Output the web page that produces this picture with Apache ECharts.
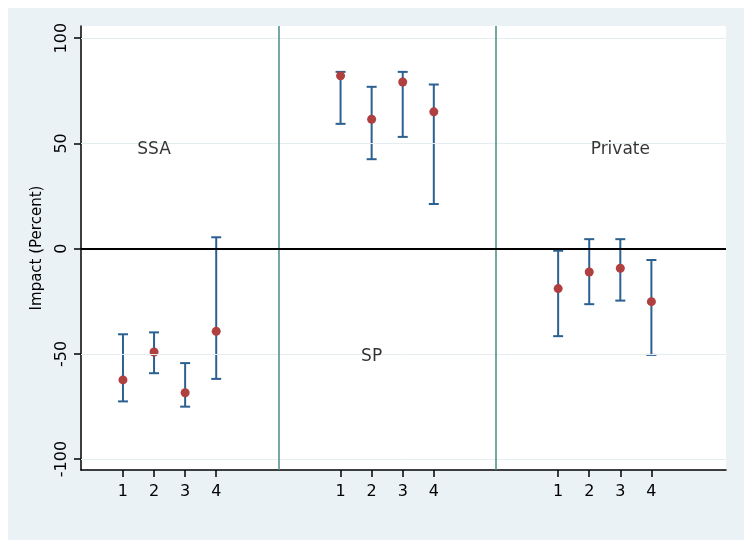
<!DOCTYPE html>
<html>
<head>
<meta charset="utf-8">
<script src="https://cdn.jsdelivr.net/npm/echarts@6/dist/echarts.min.js"></script>
<style>
  html, body { margin: 0; padding: 0; background: #ffffff; }
  #wrap { position: absolute; left: 0; top: 0; width: 753px; height: 550px; background: #ffffff; }
  #chart { position: absolute; left: 8px; top: 8px; width: 736px; height: 532px; background: #ebf2f5; }
</style>
</head>
<body>
<div id="wrap"><div id="chart"></div></div>
<script>
// ---- data ----
const xPos        = [1, 2, 3, 4, 8, 9, 10, 11, 15, 16, 17, 18];
const xTickLabels = ['1', '2', '3', '4', '1', '2', '3', '4', '1', '2', '3', '4'];
const estimates   = [-62.4, -49.1, -68.5, -39.3, 82.1, 61.5, 79.2, 65.0, -19.0, -11.1, -9.3, -25.2];
const ciLow       = [-72.6, -59.2, -75.1, -61.9, 59.3, 42.5, 53.1, 21.2, -41.6, -26.4, -24.7, -50.5];
const ciHigh      = [-40.7, -39.8, -54.4, 5.4, 84.0, 76.9, 84.0, 78.0, -1.0, 4.5, 4.5, -5.4];
const groupNames  = ['SSA', 'SP', 'Private'];
const groupNameX  = [2, 9, 17];
const groupNameY  = [47, -51.5, 47];
const separatorsX = [6, 13];
const yTicks      = [-100, -50, 0, 50, 100];

const FONT = 'DejaVu Sans';
const chart = echarts.init(document.getElementById('chart'), null, { renderer: 'canvas' });

const ciData = xPos.map((x, i) => [x, ciLow[i], ciHigh[i]]);
const ptData = xPos.map((x, i) => [x, estimates[i]]);
const labelData = groupNames.map((n, i) => ({ name: n, value: [groupNameX[i], groupNameY[i]] }));

const option = {
  animation: false,
  backgroundColor: 'transparent',
  textStyle: { fontFamily: FONT },
  grid: {
    left: 73, top: 18, width: 645, height: 444,
    show: true, backgroundColor: '#ffffff', borderWidth: 0
  },
  xAxis: {
    type: 'value', min: -0.35, max: 20.4,
    axisLine: { show: true, onZero: false, lineStyle: { color: '#000', width: 1.5 } },
    axisTick: { show: true, length: 7, customValues: xPos, lineStyle: { color: '#000', width: 1.5 } },
    axisLabel: {
      show: true, customValues: xPos, margin: 14,
      color: '#000', fontSize: 16, fontFamily: FONT,
      formatter: function (v) { const k = xPos.indexOf(v); return k >= 0 ? xTickLabels[k] : ''; }
    },
    splitLine: { show: false }
  },
  yAxis: {
    type: 'value', min: -105.2, max: 105.8,
    name: 'Impact (Percent)', nameLocation: 'middle', nameGap: 36,
    nameTextStyle: { color: '#000', fontSize: 15, fontFamily: FONT },
    axisLine: { show: true, onZero: false, lineStyle: { color: '#000', width: 1.5 } },
    axisTick: { show: true, length: 7, customValues: yTicks, lineStyle: { color: '#000', width: 1.5 } },
    axisLabel: {
      show: true, customValues: yTicks, rotate: 90, margin: 11,
      color: '#000', fontSize: 16, fontFamily: FONT
    },
    splitLine: { show: false }
  },
  series: [
    {
      type: 'line', data: [], silent: true,
      markLine: {
        silent: true, symbol: 'none', label: { show: false },
        lineStyle: { color: '#e4eef0', width: 1, type: 'solid' },
        data: yTicks.filter(v => v !== 0).map(v => ({ yAxis: v }))
      }
    },
    {
      type: 'line', data: [], silent: true,
      markLine: {
        silent: true, symbol: 'none', label: { show: false },
        lineStyle: { color: '#4a8d86', width: 1.5, type: 'solid' },
        data: separatorsX.map(v => ({ xAxis: v }))
      }
    },
    {
      type: 'line', data: [], silent: true,
      markLine: {
        silent: true, symbol: 'none', label: { show: false },
        lineStyle: { color: '#000', width: 2, type: 'solid' },
        data: [{ yAxis: 0 }]
      }
    },
    {
      type: 'custom',
      data: ciData,
      encode: { x: 0, y: [1, 2] },
      renderItem: function (params, api) {
        const x = api.value(0);
        const lo = api.coord([x, api.value(1)]);
        const hi = api.coord([x, api.value(2)]);
        const hw = 5;
        const st = { stroke: '#2b6090', lineWidth: 2, fill: null };
        return {
          type: 'group',
          children: [
            { type: 'line', shape: { x1: lo[0], y1: lo[1], x2: hi[0], y2: hi[1] }, style: st },
            { type: 'line', shape: { x1: lo[0] - hw, y1: lo[1], x2: lo[0] + hw, y2: lo[1] }, style: st },
            { type: 'line', shape: { x1: hi[0] - hw, y1: hi[1], x2: hi[0] + hw, y2: hi[1] }, style: st }
          ]
        };
      },
      z: 3
    },
    {
      type: 'scatter',
      data: ptData,
      symbol: 'circle', symbolSize: 9,
      itemStyle: { color: '#b03f40', opacity: 1 },
      z: 4
    },
    {
      type: 'scatter',
      data: labelData,
      symbolSize: 0,
      label: {
        show: true, position: 'inside', formatter: '{b}',
        color: '#000', fontSize: 17, fontFamily: FONT,
        textBorderWidth: 0, textBorderColor: 'transparent'
      },
      z: 5
    }
  ]
};
chart.setOption(option);
</script>
</body>
</html>
